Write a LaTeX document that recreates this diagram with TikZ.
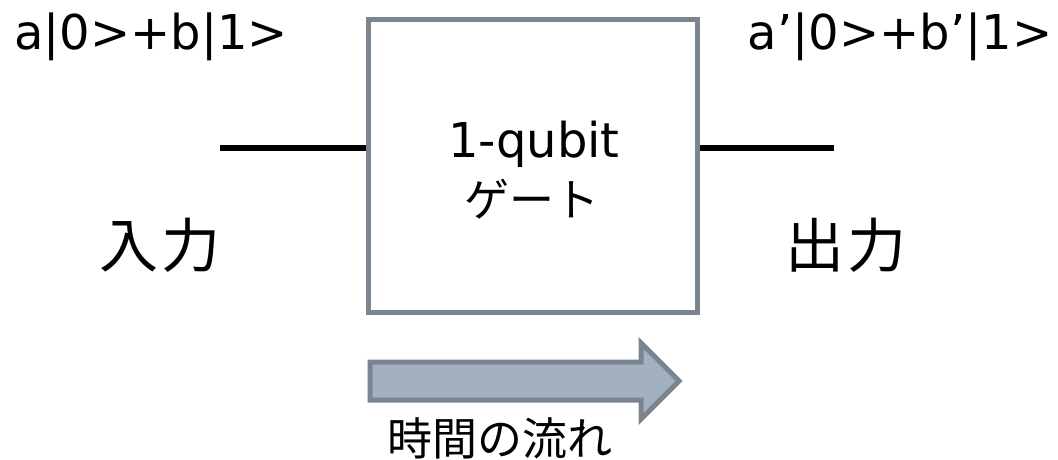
\documentclass[tikz,border=0pt]{standalone}
\usepackage{fontspec}
\setmainfont{DejaVu Sans}
\newfontfamily\jpfont{Noto Sans CJK JP}
\usetikzlibrary{shapes.arrows}
\definecolor{edgegray}{HTML}{7B8592}
\definecolor{arrowfill}{HTML}{A2B0C0}
\tikzset{
  wire/.style={line width=6pt, black},
  gatebox/.style={draw=edgegray, line width=5pt, fill=white, minimum width=329pt, minimum height=293pt, inner sep=0pt},
  lbl/.style={inner sep=0pt, font=\fontsize{48}{52}\selectfont},
  jplbl/.style={inner sep=0pt, font=\jpfont\fontsize{59}{62}\selectfont},
}
\begin{document}
\begin{tikzpicture}[x=1pt,y=-1pt]
\useasboundingbox (0,0) rectangle (1058,460);
\node[gatebox] (box) at (532.5,166) {};
\node[lbl, anchor=base] (q1) at (534,157) {1-qubit};
\node[inner sep=0pt, font=\jpfont\fontsize{45}{48}\selectfont] (q2) at (532,199) {ゲート};
\coordinate (inL) at (220,148);
\coordinate (outR) at (834,148);
\draw[wire] (inL) -- (inL -| box.west);
\draw[wire] (outR -| box.east) -- (outR);
\node[lbl, anchor=base] (inlabel) at (151,50) {a|0>+b|1>};
\node[lbl, anchor=base] (outlabel) at (900,50) {a’|0>+b’|1>};
\node[jplbl] (nyu) at (160,245) {入\kern3pt力};
\node[jplbl] (shutsu) at (846,245) {出\kern3pt力};
\node[single arrow, draw=edgegray, fill=arrowfill, line width=5pt,
      inner xsep=0pt, inner ysep=16.5pt, single arrow head extend=19pt,
      minimum height=309pt, anchor=west] (time) at (367.5,381) {};
\node[inner sep=0pt, font=\jpfont\fontsize{45}{48}\selectfont] (timelbl) at (500,438) {時間の流れ};
\end{tikzpicture}
\end{document}
